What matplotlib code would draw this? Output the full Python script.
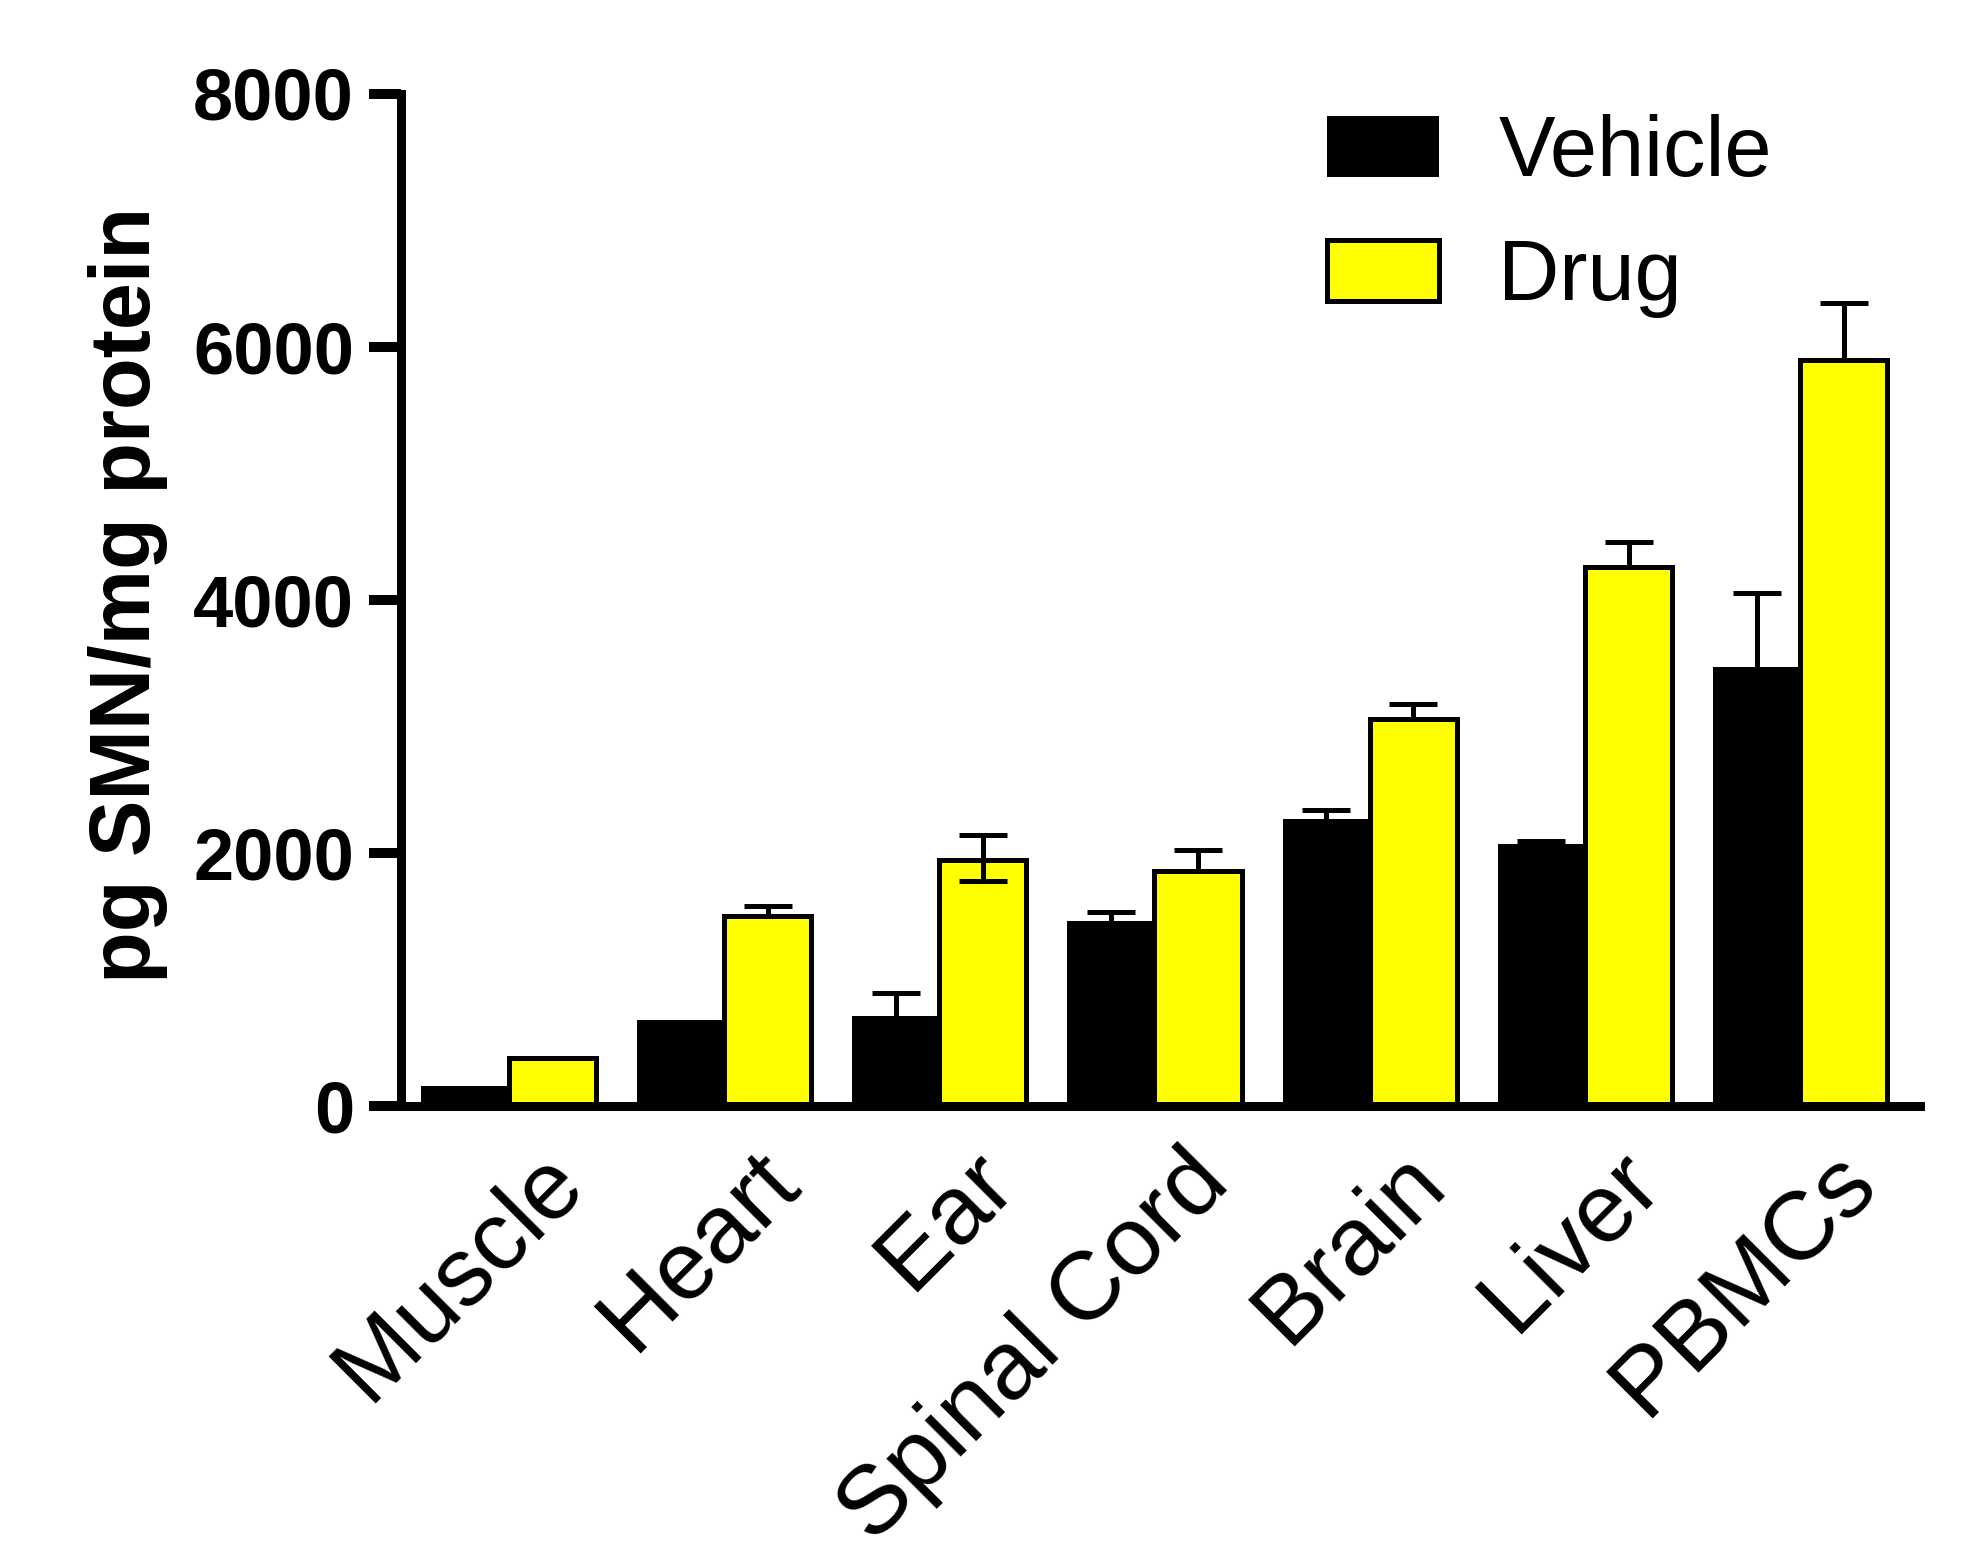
import numpy as np
import matplotlib
matplotlib.use("Agg")
import matplotlib.pyplot as plt
from matplotlib.transforms import ScaledTranslation

plt.rcParams['font.family'] = ['Liberation Sans', 'DejaVu Sans']

# SMN protein levels per tissue (pg SMN / mg protein)
tissues = ["Muscle", "Heart", "Ear", "Spinal Cord", "Brain", "Liver", "PBMCs"]
vehicle = [160, 680, 715, 1465, 2265, 2070, 3465]
vehicle_err = [0, 0, 180, 65, 75, 25, 590]
drug = [380, 1500, 1940, 1855, 3057, 4260, 5893]
drug_err_up = [0, 80, 200, 165, 120, 200, 450]
drug_err_low = [0, 0, 160, 0, 0, 0, 0]
series_names = ["Vehicle", "Drug"]
yticks = [0, 2000, 4000, 6000, 8000]

W, H, DPI = 1978, 1549, 100
fig = plt.figure(figsize=(W / DPI, H / DPI), dpi=DPI)
ax = fig.add_axes([401 / W, 1 - 1106 / H, (1920 - 401) / W, (1106 - 93.5) / H])

x = np.arange(len(tissues))
bw = 0.405


def px(p):
    """Convert pixels to points."""
    return p * 72 / DPI


vb = ax.bar(x - bw / 2, vehicle, bw, color="black", edgecolor="black",
            linewidth=0, zorder=2, label=series_names[0])
db = ax.bar(x + bw / 2, drug, bw, color="#ffff00", edgecolor="black",
            linewidth=px(5), zorder=2, label=series_names[1])


def draw_err(xpos, vals, up, low):
    """Whiskers with caps, drawn only on the sides that have an error."""
    xpos = np.asarray(xpos, float)
    vals = np.asarray(vals, float)
    up = np.asarray(up, float)
    low = np.asarray(low, float)
    keep = (up > 0) | (low > 0)
    ax.vlines(xpos[keep], (vals - low)[keep], (vals + up)[keep],
              colors="black", linewidth=px(5), zorder=3)
    for sel, yy in ((up > 0, vals + up), (low > 0, vals - low)):
        ax.plot(xpos[sel], yy[sel], linestyle="none", marker="_",
                markersize=px(47), markeredgewidth=px(5), color="black",
                zorder=3)


draw_err(x - bw / 2, vehicle, vehicle_err, np.zeros(len(x)))
draw_err(x + bw / 2, drug, drug_err_up, drug_err_low)

ax.set_xlim(-0.5, 6.556)
ax.set_ylim(0, 8000)
ax.set_yticks(yticks)
ax.set_yticklabels([str(v) for v in yticks], fontsize=52, fontweight="bold")
ax.tick_params(axis="y", direction="out", length=px(32), width=px(10), pad=px(15))
ax.set_xticks(x)
ax.set_xticklabels(tissues, fontsize=70, rotation=45, ha="right", va="top")
ax.tick_params(axis="x", length=0, pad=px(30))
offset = ScaledTranslation(92 / DPI, 0, fig.dpi_scale_trans)
for lab in ax.get_xticklabels():
    lab.set_transform(lab.get_transform() + offset)

for side in ("top", "right"):
    ax.spines[side].set_visible(False)
for side in ("left", "bottom"):
    ax.spines[side].set_linewidth(px(9))

ax.set_ylabel("pg SMN/mg protein", fontsize=61, fontweight="bold")
ax.yaxis.set_label_coords((168 - 401) / (1920 - 401), (1106 - 595) / (1106 - 93.5))

ax.legend(handles=[vb, db], loc="upper left",
          bbox_to_anchor=(1327 / W, 1 - 114 / H), bbox_transform=fig.transFigure,
          frameon=False, fontsize=61, handlelength=1.32, handleheight=0.74,
          handletextpad=0.7, labelspacing=0.52, borderpad=0, borderaxespad=0)

fig.savefig("out.png", dpi=DPI)
